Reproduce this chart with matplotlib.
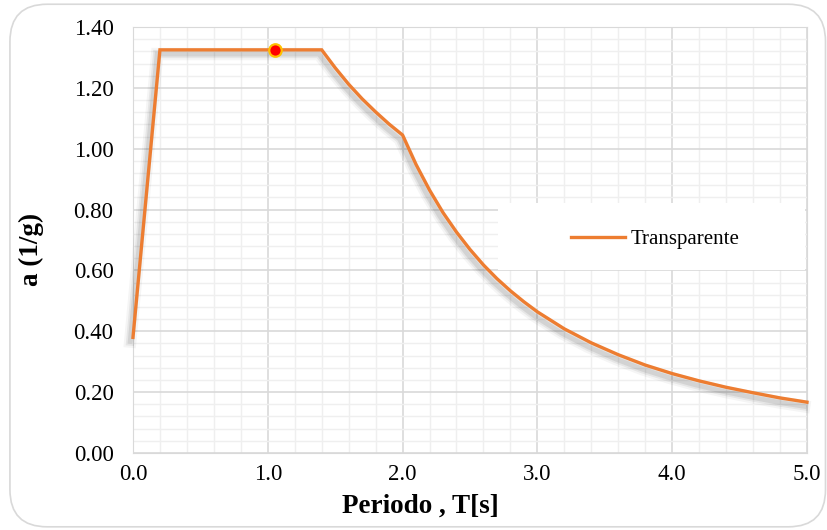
import numpy as np
import matplotlib
matplotlib.use('Agg')
import matplotlib.pyplot as plt
import matplotlib.patheffects as pe
from matplotlib.patches import FancyBboxPatch, Rectangle
from matplotlib.lines import Line2D

# espectro de diseño
periodo = [0.0, 0.2, 1.4, 1.5, 1.6, 1.7, 1.8, 1.9, 2.0, 2.1, 2.2, 2.3, 2.4, 2.5,
           2.6, 2.7, 2.8, 2.9, 3.0, 3.2, 3.4, 3.6, 3.8, 4.0, 4.2, 4.4, 4.6, 4.8, 5.0]
acel = [0.38, 1.325, 1.325, 1.266, 1.212, 1.164, 1.121, 1.081, 1.045, 0.948, 0.864,
        0.790, 0.726, 0.669, 0.618, 0.573, 0.533, 0.497, 0.464, 0.408, 0.362, 0.323,
        0.289, 0.261, 0.237, 0.216, 0.198, 0.181, 0.167]
punto_T = [1.05]
punto_a = [1.325]
serie = 'Transparente'

xticks = [0.0, 1.0, 2.0, 3.0, 4.0, 5.0]
yticks = [0.0, 0.2, 0.4, 0.6, 0.8, 1.0, 1.2, 1.4]

naranja = '#ED7D31'
plt.rcParams['font.family'] = ['Liberation Serif', 'DejaVu Serif']

fig = plt.figure(figsize=(8.28, 5.30), dpi=100)
marco = FancyBboxPatch((0.012, 0.006), 0.985, 0.986, transform=fig.transFigure,
                       boxstyle='round,pad=0,rounding_size=0.045',
                       facecolor='white', edgecolor='#d9d9d9', linewidth=1.2,
                       mutation_aspect=828 / 530, zorder=-5)
fig.patches.append(marco)
ax = fig.add_axes([0.1606, 0.1453, 0.8140, 0.8037])
ax.set_facecolor('none')

ax.set_xlim(0, 5.0)
ax.set_ylim(0, 1.40)
ax.set_xticks(xticks)
ax.set_yticks(yticks)
ax.set_xticks(np.arange(0, 5.01, 0.2), minor=True)
ax.set_yticks(np.arange(0, 1.401, 0.04), minor=True)
ax.set_xticklabels([f'{v:.1f}' for v in xticks])
ax.set_yticklabels([f'{v:.2f}' for v in yticks])
ax.tick_params(which='both', length=0, labelsize=16.5)
ax.tick_params(axis='y', pad=14)
ax.tick_params(axis='x', pad=8)
ax.set_axisbelow(True)
ax.grid(which='major', color='#d9d9d9', linewidth=1.2)
ax.grid(which='minor', color='#efefef', linewidth=1.0)
for s in ax.spines.values():
    s.set_color('#d9d9d9')

# sombra difusa de la linea
sombra = []
for dx, dy, lw, al in [(-2, -3, 9, 0.04), (-2, -3, 6, 0.06), (-2, -3, 3.5, 0.08)]:
    sombra.append(pe.SimpleLineShadow(offset=(dx, dy), shadow_color='black', alpha=al, linewidth=lw))
sombra.append(pe.Normal())
ax.plot(periodo, acel, color=naranja, linewidth=2.4, zorder=3,
        path_effects=sombra, solid_joinstyle='miter', clip_on=False)
ax.plot(punto_T, punto_a, 'o', markersize=9, markerfacecolor='#ff0000',
        markeredgecolor='#ffc000', markeredgewidth=1.6, zorder=4)

# recuadro blanco de la leyenda
ax.add_patch(Rectangle((0.5415, 0.4296), 0.4555, 0.1574, transform=ax.transAxes,
                       facecolor='white', edgecolor='none', zorder=2))
handle = Line2D([], [], color=naranja, linewidth=2.4)
leg = ax.legend([handle], [serie], loc='center left', bbox_to_anchor=(0.650, 0.502),
                frameon=False, fontsize=15, handlelength=2.6, handletextpad=0.25,
                borderpad=0, borderaxespad=0)
leg.set_zorder(5)

ax.set_xlabel('Periodo , T[s]', fontsize=19.5, fontweight='bold', va='center')
ax.set_ylabel('a (1/g)', fontsize=19.5, fontweight='bold', va='center')
ax.xaxis.set_label_coords(0.427, -0.124)
ax.yaxis.set_label_coords(-0.150, 0.479)

fig.savefig('out.png', dpi=100)
